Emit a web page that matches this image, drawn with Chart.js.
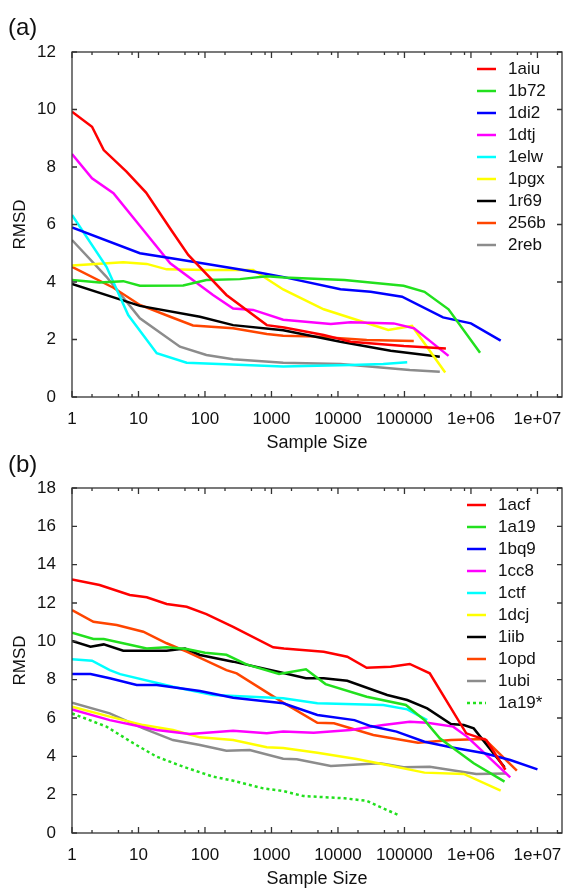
<!DOCTYPE html>
<html>
<head>
<meta charset="utf-8">
<script src="https://cdn.jsdelivr.net/npm/chart.js@4"></script>
<style>
body{margin:0;background:#fff;}
#wrap{position:relative;width:568px;height:888px;}
canvas{position:absolute;left:0;}
#chartA{top:0;}
#chartB{top:444px;}
</style>
</head>
<body>
<div id="wrap">
<canvas id="chartA" width="568" height="460"></canvas>
<canvas id="chartB" width="568" height="444"></canvas>
</div>
<script>
// x tick labels (sample size, log scale)
const xTicks=[1,10,100,1000,10000,100000,1e6,1e7];
const xTickLabels=["1","10","100","1000","10000","100000","1e+06","1e+07"];

// panel (a)  [sample size, RMSD]
const namesA=["1aiu","1b72","1di2","1dtj","1elw","1pgx","1r69","256b","2reb"];
const p1aiu=[[1,9.92],[2,9.4],[3,8.59],[6.6,7.84],[13,7.11],[31,5.81],[56,4.94],[210,3.55],[850,2.5],[1550,2.42],[6100,2.16],[15500,1.92],[98000,1.77],[420000,1.69]];
const p1b72=[[1,4.07],[2.6,3.98],[5.9,4.03],[10.5,3.87],[47,3.88],[105,4.07],[335,4.1],[850,4.2],[1540,4.16],[12500,4.07],[97000,3.87],[200000,3.66],[460000,3.05],[1370000,1.54]];
const p1di2=[[1,5.9],[10.5,5.0],[33,4.82],[132,4.59],[670,4.32],[1540,4.17],[10900,3.75],[31000,3.66],[92000,3.49],[380000,2.77],[1000000,2.56],[2800000,1.96]];
const p1dtj=[[1,8.45],[2,7.61],[4.2,7.09],[11.8,5.81],[30,4.65],[132,3.55],[265,3.08],[530,3.03],[1500,2.69],[7800,2.54],[15500,2.6],[69000,2.56],[140000,2.39],[460000,1.43]];
const p1elw=[[1,6.33],[3.3,4.53],[7,2.85],[18.8,1.52],[53,1.19],[1500,1.06],[15500,1.11],[48000,1.15],[110000,1.21]];
const p1pgx=[[1,4.57],[5.9,4.69],[13.3,4.63],[26.5,4.44],[105,4.42],[530,4.42],[1500,3.74],[6100,3.05],[57000,2.33],[130000,2.47],[410000,0.85]];
const p1r69=[[1,3.93],[10.5,3.17],[84,2.79],[265,2.5],[1500,2.32],[10900,1.92],[62000,1.61],[340000,1.4]];
const p256b=[[1,4.53],[4.2,3.8],[10.5,3.2],[30,2.79],[66,2.49],[265,2.39],[850,2.19],[1500,2.13],[4900,2.1],[27000,1.98],[138000,1.95]];
const p2reb=[[1,5.46],[3.3,4.18],[10.5,2.74],[42,1.75],[105,1.46],[265,1.31],[1500,1.19],[10900,1.15],[120000,0.94],[340000,0.88]];
const colorsA=["#ff0000","#22e01e","#0000ff","#ff00ff","#00ffff","#ffff00","#000000","#ff4500","#8c8c8c"];

// panel (b)
const namesB=["1acf","1a19","1bq9","1cc8","1ctf","1dcj","1iib","1opd","1ubi","1a19*"];
const p1acf=[[1,13.23],[2.6,12.94],[7.4,12.42],[13.3,12.3],[26.5,11.95],[53,11.8],[105,11.42],[265,10.76],[1060,9.69],[1540,9.63],[6100,9.46],[13800,9.2],[27000,8.62],[62000,8.68],[120000,8.82],[240000,8.33],[850000,5.2],[1700000,4.85],[3300000,3.3]];
const p1a19=[[1,10.45],[2.1,10.12],[3,10.12],[6.6,9.86],[13.3,9.63],[26.5,9.69],[53,9.6],[100,9.4],[210,9.3],[420,8.8],[1300,8.3],[3300,8.54],[6500,7.77],[27000,7.11],[105000,6.68],[200000,5.89],[340000,4.94],[1100000,3.64],[3200000,2.68]];
const p1bq9=[[1,8.3],[1.9,8.3],[3.7,8.07],[9.4,7.72],[18.8,7.72],[84,7.41],[265,7.06],[1500,6.77],[4900,6.16],[17700,5.89],[31000,5.58],[76000,5.29],[200000,4.76],[500000,4.47],[1600000,4.16],[3900000,3.81],[10000000,3.32]];
const p1cc8=[[1,6.45],[3.7,5.89],[18.8,5.37],[59,5.16],[265,5.34],[850,5.2],[1500,5.29],[4300,5.23],[15500,5.37],[48000,5.63],[120000,5.81],[220000,5.75],[540000,5.55],[870000,5.03],[3900000,2.9]];
const p1ctf=[[1,9.06],[2,8.99],[3.7,8.5],[5.3,8.29],[33,7.63],[132,7.2],[1500,7.03],[4900,6.77],[48000,6.68],[110000,6.45],[220000,5.89]];
const p1dcj=[[1,6.59],[3.7,6.07],[11.8,5.63],[33,5.37],[84,4.99],[265,4.85],[850,4.47],[1500,4.43],[4900,4.19],[19000,3.86],[55000,3.55],[200000,3.15],[780000,3.08],[2800000,2.21]];
const p1iib=[[1,10.02],[1.9,9.72],[3,9.84],[5.9,9.51],[26.5,9.51],[50,9.63],[84,9.29],[265,8.94],[1300,8.4],[3300,8.07],[6100,8.07],[13800,7.94],[55000,7.2],[110000,6.94],[220000,6.5],[500000,5.69],[780000,5.63],[1100000,5.46],[3200000,3.43]];
const p1opd=[[1,11.63],[2.1,11.02],[4.7,10.85],[11.8,10.5],[26.5,9.9],[53,9.46],[210,8.5],[300,8.33],[1500,6.8],[4900,5.75],[8700,5.72],[34000,5.11],[160000,4.71],[500000,4.85],[1600000,4.9],[4900000,3.25]];
const p1ubi=[[1,6.8],[3.7,6.24],[11.8,5.46],[33,4.85],[84,4.59],[210,4.29],[470,4.33],[1500,3.88],[2400,3.85],[7800,3.5],[43000,3.64],[97000,3.43],[240000,3.46],[1200000,3.08],[3400000,3.11]];
const p1a19s=[[1,6.24],[3.3,5.55],[8.4,4.68],[18.8,3.98],[47,3.46],[132,2.94],[265,2.73],[750,2.33],[1500,2.19],[3000,1.93],[12500,1.81],[27000,1.68],[80000,0.94]];
const colorsB=["#ff0000","#22e01e","#0000ff","#ff00ff","#00ffff","#ffff00","#000000","#ff4500","#8c8c8c","#22e01e"];

const FONT="'Liberation Sans', Helvetica, Arial, sans-serif";

function toSet(name,pts,color,dashed){
  return {
    label:name,
    data:pts.map(p=>({x:p[0],y:p[1]})),
    borderColor:color,
    backgroundColor:color,
    borderWidth:2.5,
    borderDash:dashed?[3,3]:[],
    pointRadius:0,
    tension:0,
    fill:false
  };
}

// frame, inward ticks, legend and titles (gnuplot look)
const decor={
  id:'decor',
  afterDraw(chart,args,opts){
    const c=chart.ctx, a=chart.chartArea;
    const xs=chart.scales.x, ys=chart.scales.y;
    c.save();
    c.strokeStyle="#333";
    c.lineWidth=1.3;
    c.strokeRect(a.left,a.top,a.right-a.left,a.bottom-a.top);
    c.beginPath();
    for(let d=1;d<=1e7;d*=10){
      [1,2,5,8].forEach(m=>{
        const v=d*m;
        if(v>xs.max) return;
        const px=xs.getPixelForValue(v), len=m===1?6:3;
        c.moveTo(px,a.bottom);c.lineTo(px,a.bottom-len);
        c.moveTo(px,a.top);c.lineTo(px,a.top+len);
      });
    }
    ys.ticks.forEach(t=>{
      const py=ys.getPixelForValue(t.value);
      c.moveTo(a.left,py);c.lineTo(a.left+5,py);
      c.moveTo(a.right,py);c.lineTo(a.right-5,py);
    });
    c.stroke();

    // legend
    c.font="17px "+FONT;
    c.textBaseline="middle";
    c.textAlign="left";
    chart.data.datasets.forEach((ds,i)=>{
      const y=opts.legY+i*22;
      c.strokeStyle=ds.borderColor;
      c.lineWidth=2.5;
      c.setLineDash(ds.borderDash);
      c.beginPath();c.moveTo(opts.legX,y);c.lineTo(opts.legX+19,y);c.stroke();
      c.setLineDash([]);
      c.fillStyle="#111";
      c.fillText(ds.label,opts.legX+31,y);
    });

    // titles
    c.fillStyle="#111";
    c.font="24px "+FONT;
    c.textBaseline="alphabetic";
    c.fillText(opts.tag,8,opts.tagY);
    c.font="18px "+FONT;
    c.textAlign="center";
    c.fillText("Sample Size",(a.left+a.right)/2,opts.xTitleY);
    c.translate(20,(a.top+a.bottom)/2);
    c.rotate(-Math.PI/2);
    c.textBaseline="middle";
    c.font="17px "+FONT;
    c.fillText("RMSD",0,0);
    c.restore();
  }
};

function makeChart(id,datasets,yMax,padTop,xHeight,deco){
  return new Chart(document.getElementById(id),{
    type:'line',
    data:{datasets:datasets},
    plugins:[decor],
    options:{
      responsive:false,
      animation:false,
      layout:{padding:{top:padTop,right:6,left:0,bottom:0}},
      plugins:{legend:{display:false},tooltip:{enabled:false},decor:deco},
      scales:{
        x:{
          type:'logarithmic',
          min:1,max:2.34e7,
          grid:{display:false},
          border:{display:false},
          afterBuildTicks:s=>{s.ticks=xTicks.map(v=>({value:v}));},
          afterFit:s=>{s.height=xHeight;},
          ticks:{
            autoSkip:false,maxRotation:0,padding:4,color:"#111",
            font:{family:FONT,size:17},
            callback:v=>xTickLabels[xTicks.indexOf(v)]
          }
        },
        y:{
          min:0,max:yMax,
          grid:{display:false},
          border:{display:false},
          afterFit:s=>{s.width=72;},
          ticks:{stepSize:2,padding:8,color:"#111",font:{family:FONT,size:17}}
        }
      }
    }
  });
}

const setsA=[p1aiu,p1b72,p1di2,p1dtj,p1elw,p1pgx,p1r69,p256b,p2reb].map((p,i)=>toSet(namesA[i],p,colorsA[i],false));
const setsB=[p1acf,p1a19,p1bq9,p1cc8,p1ctf,p1dcj,p1iib,p1opd,p1ubi,p1a19s].map((p,i)=>toSet(namesB[i],p,colorsB[i],i===9));

makeChart("chartA",setsA,12,52,63,{legX:477,legY:69,tag:"(a)",tagY:35,xTitleY:448});
makeChart("chartB",setsB,18,44,55,{legX:467,legY:61,tag:"(b)",tagY:28,xTitleY:440});
</script>
</body>
</html>
